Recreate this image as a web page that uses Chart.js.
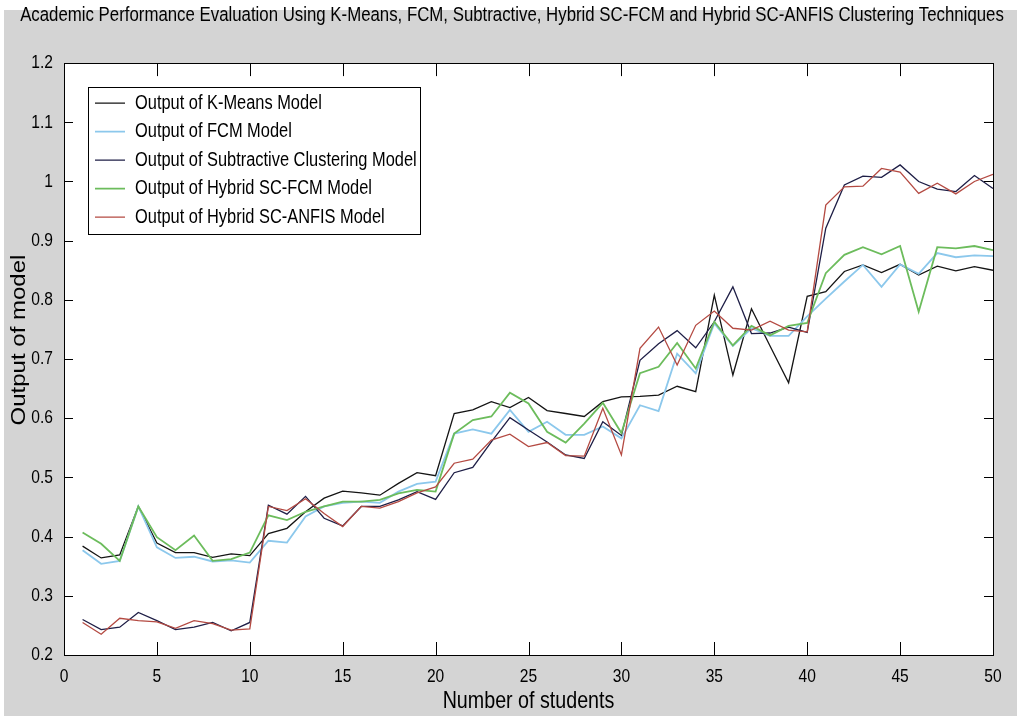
<!DOCTYPE html>
<html>
<head>
<meta charset="utf-8">
<script src="https://cdn.jsdelivr.net/npm/chart.js@4.4.1/dist/chart.umd.min.js"></script>
<style>
  html, body { margin: 0; padding: 0; background: #fff; }
  canvas { display: block; }
</style>
</head>
<body>
<canvas id="chart" width="1017" height="716"></canvas>
<script>
// data
const students = [1, 2, 3, 4, 5, 6, 7, 8, 9, 10,
  11, 12, 13, 14, 15, 16, 17, 18, 19, 20,
  21, 22, 23, 24, 25, 26, 27, 28, 29, 30,
  31, 32, 33, 34, 35, 36, 37, 38, 39, 40,
  41, 42, 43, 44, 45, 46, 47, 48, 49, 50];

const kMeans = [0.384, 0.364, 0.369, 0.451, 0.389, 0.373, 0.373, 0.365, 0.371, 0.368,
  0.405, 0.414, 0.442, 0.465, 0.477, 0.474, 0.470, 0.490, 0.508, 0.503,
  0.608, 0.614, 0.628, 0.618, 0.635, 0.613, 0.608, 0.603, 0.628, 0.636,
  0.637, 0.639, 0.654, 0.645, 0.808, 0.673, 0.785, 0.722, 0.660, 0.806,
  0.814, 0.848, 0.859, 0.846, 0.860, 0.842, 0.857, 0.849, 0.856, 0.850];

const fcm = [0.377, 0.354, 0.359, 0.451, 0.382, 0.364, 0.366, 0.358, 0.360, 0.356,
  0.393, 0.390, 0.434, 0.451, 0.457, 0.459, 0.457, 0.476, 0.489, 0.493,
  0.574, 0.581, 0.574, 0.614, 0.577, 0.594, 0.572, 0.572, 0.586, 0.566,
  0.622, 0.612, 0.709, 0.676, 0.760, 0.722, 0.752, 0.739, 0.739, 0.772,
  0.802, 0.831, 0.859, 0.822, 0.860, 0.844, 0.879, 0.872, 0.875, 0.874];

const subtractive = [0.260, 0.243, 0.247, 0.272, 0.258, 0.243, 0.247, 0.255, 0.241, 0.255,
  0.453, 0.438, 0.468, 0.431, 0.418, 0.451, 0.451, 0.462, 0.476, 0.463,
  0.508, 0.517, 0.560, 0.601, 0.580, 0.560, 0.538, 0.532, 0.594, 0.571,
  0.698, 0.726, 0.748, 0.719, 0.763, 0.822, 0.743, 0.744, 0.754, 0.745,
  0.921, 0.994, 1.009, 1.007, 1.028, 1.000, 0.987, 0.983, 1.010, 0.988];

const scFcm = [0.407, 0.388, 0.359, 0.451, 0.399, 0.377, 0.402, 0.359, 0.362, 0.373,
  0.436, 0.428, 0.442, 0.451, 0.459, 0.459, 0.462, 0.473, 0.479, 0.476,
  0.574, 0.597, 0.603, 0.643, 0.625, 0.577, 0.559, 0.591, 0.626, 0.575,
  0.676, 0.687, 0.727, 0.684, 0.763, 0.723, 0.756, 0.740, 0.756, 0.761,
  0.845, 0.876, 0.889, 0.877, 0.891, 0.780, 0.889, 0.887, 0.891, 0.884];

const scAnfis = [0.255, 0.235, 0.262, 0.258, 0.256, 0.245, 0.258, 0.253, 0.242, 0.244,
  0.451, 0.444, 0.464, 0.439, 0.417, 0.451, 0.448, 0.459, 0.474, 0.484,
  0.524, 0.531, 0.563, 0.573, 0.552, 0.559, 0.537, 0.536, 0.617, 0.538,
  0.718, 0.754, 0.690, 0.757, 0.781, 0.752, 0.749, 0.764, 0.749, 0.746,
  0.960, 0.991, 0.992, 1.022, 1.016, 0.980, 0.997, 0.979, 1.000, 1.012];

const seriesNames = [
  'Output of K-Means Model',
  'Output of FCM Model',
  'Output of Subtractive Clustering Model',
  'Output of Hybrid SC-FCM Model',
  'Output of Hybrid SC-ANFIS Model'
];
const seriesValues = [kMeans, fcm, subtractive, scFcm, scAnfis];
const seriesColors = ['#141414', '#8cc8ec', '#1e1e46', '#6cbc5c', '#b44a42'];
const seriesWidths = [1.3, 1.8, 1.3, 1.8, 1.3];

const FONT = "'Liberation Sans', Arial, sans-serif";
const SQUEEZE = 0.82; // the reference text is narrow, like Arial Narrow
Chart.defaults.font.family = FONT;
Chart.defaults.color = '#000';

const legendFontSize = 20;
const legendPad = 8.5;
const legendLine = 30;

// squeeze every text along the reading direction (rotated text: across it)
const narrowText = {
    id: 'narrowText',
    beforeInit(chart) {
        const ctx = chart.ctx;
        const fill = ctx.fillText.bind(ctx);
        ctx.fillText = function (text, x, y, maxWidth) {
            const m = ctx.getTransform();
            const rotated = Math.abs(m.b) > 0.5;
            ctx.save();
            ctx.translate(x, y);
            if (rotated) ctx.scale(1, SQUEEZE); else ctx.scale(SQUEEZE, 1);
            if (maxWidth === undefined) fill(text, 0, 0);
            else fill(text, 0, 0, maxWidth / SQUEEZE);
            ctx.restore();
        };
    }
};

function legendBox(chart) {
    const { ctx } = chart;
    const lg = chart.legend;
    ctx.save();
    ctx.font = legendFontSize + 'px ' + FONT;
    const maxW = Math.max(...seriesNames.map(n => ctx.measureText(n).width)) * SQUEEZE;
    ctx.restore();
    return {
        x: lg.left + legendPad - 7,
        y: lg.top + legendPad - 6,
        w: 7 + legendLine + legendFontSize / 2 + maxW + 3,
        h: 6 + seriesNames.length * (legendFontSize + legendPad) - legendPad + 7
    };
}

// MATLAB-ish frame: gray figure, white axes, boxed legend, inward ticks
const matlabFrame = {
    id: 'matlabFrame',
    afterLayout(chart) {
        const lg = chart.legend;
        const area = chart.chartArea;
        lg.left = area.left + 22.5;
        lg.top = area.top + 21.5;
        lg.right = area.right;
        lg.bottom = area.bottom;
        const tb = chart.titleBlock;
        tb.left = 0;
        tb.right = chart.width + 7;
    },
    beforeDraw(chart) {
        const { ctx, chartArea: a, width, height } = chart;
        ctx.save();
        ctx.fillStyle = '#ffffff';
        ctx.fillRect(0, 0, width, height);
        ctx.fillStyle = '#d4d4d4';
        ctx.fillRect(4, 10, width - 4, height - 10);
        ctx.fillStyle = '#ffffff';
        ctx.fillRect(a.left, a.top, a.right - a.left, a.bottom - a.top);
        const b = legendBox(chart);
        ctx.fillRect(b.x, b.y, b.w, b.h);
        ctx.restore();
    },
    afterDraw(chart) {
        const { ctx, chartArea: a, scales: { x, y } } = chart;
        ctx.save();
        ctx.strokeStyle = '#000';
        ctx.lineWidth = 1;
        ctx.beginPath();
        x.ticks.forEach(t => {
            const px = Math.round(x.getPixelForValue(t.value)) + 0.5;
            ctx.moveTo(px, a.bottom); ctx.lineTo(px, a.bottom - 13);
            ctx.moveTo(px, a.top); ctx.lineTo(px, a.top + 13);
        });
        y.ticks.forEach(t => {
            const py = Math.round(y.getPixelForValue(t.value)) + 0.5;
            ctx.moveTo(a.left, py); ctx.lineTo(a.left + 9, py);
            ctx.moveTo(a.right, py); ctx.lineTo(a.right - 9, py);
        });
        ctx.stroke();
        ctx.strokeRect(Math.round(a.left) + 0.5, Math.round(a.top) + 0.5,
            Math.round(a.right - a.left), Math.round(a.bottom - a.top));
        const b = legendBox(chart);
        ctx.strokeRect(Math.round(b.x) + 0.5, Math.round(b.y) + 0.5, Math.round(b.w), Math.round(b.h));
        ctx.restore();
    }
};

const datasets = seriesNames.map((name, i) => ({
    label: name,
    data: students.map((s, k) => ({ x: s, y: seriesValues[i][k] })),
    borderColor: seriesColors[i],
    backgroundColor: seriesColors[i],
    borderWidth: seriesWidths[i],
    pointRadius: 0,
    tension: 0,
    order: seriesNames.length - i
}));

new Chart(document.getElementById('chart'), {
    type: 'line',
    data: { datasets },
    options: {
        responsive: false,
        animation: false,
        layout: { padding: { left: 0, right: 24, top: 0, bottom: 0 } },
        scales: {
            x: {
                type: 'linear',
                min: 0,
                max: 50,
                grid: { display: false },
                border: { display: false },
                ticks: { stepSize: 5, padding: 2, font: { size: 19 }, color: '#000' },
                title: { display: true, text: 'Number of students', font: { size: 24 }, color: '#000', padding: { top: 0, bottom: 0 } },
                afterFit(scale) { scale.height = 61; }
            },
            y: {
                min: 0.2,
                max: 1.2,
                grid: { display: false },
                border: { display: false },
                ticks: {
                    stepSize: 0.1,
                    padding: 3,
                    font: { size: 19 },
                    color: '#000',
                    callback: v => String(+v.toFixed(1))
                },
                title: { display: true, text: 'Output of model', font: { size: 24 }, color: '#000', padding: { top: 5, bottom: 0 } },
                afterFit(scale) {
                    scale.width = 64;
                    if (!scale._titleShifted) {
                        const drawTitle = scale.drawTitle;
                        scale.drawTitle = function () {
                            this.ctx.save();
                            this.ctx.translate(0, -19);
                            drawTitle.call(this);
                            this.ctx.restore();
                        };
                        scale._titleShifted = true;
                    }
                }
            }
        },
        plugins: {
            title: {
                display: true,
                text: 'Academic Performance Evaluation Using K-Means, FCM, Subtractive, Hybrid SC-FCM and Hybrid SC-ANFIS Clustering Techniques',
                font: { size: 20.5, weight: 'normal' },
                color: '#000',
                padding: { top: 3.5, bottom: 35 }
            },
            legend: {
                position: 'chartArea',
                align: 'start',
                labels: {
                    usePointStyle: true,
                    pointStyle: 'line',
                    pointStyleWidth: legendLine,
                    padding: legendPad,
                    font: { size: legendFontSize },
                    color: '#000',
                    sort: (a, b) => a.datasetIndex - b.datasetIndex
                }
            },
            tooltip: { enabled: false }
        }
    },
    plugins: [narrowText, matlabFrame]
});
</script>
</body>
</html>
